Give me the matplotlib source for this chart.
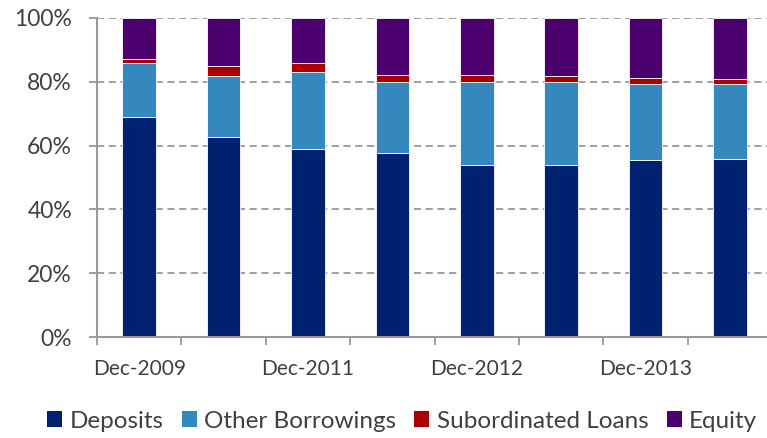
import matplotlib
matplotlib.use("Agg")
import matplotlib.pyplot as plt
import numpy as np
from matplotlib.ticker import FixedLocator, FuncFormatter
from matplotlib.patches import Patch

plt.rcParams['font.family'] = ['Lato', 'DejaVu Sans']

# Funding mix by reporting date (% of total)
categories = ["Dec-2009", "Dec-2010", "Dec-2011", "Jun-2012",
              "Dec-2012", "Jun-2013", "Dec-2013", "Jun-2014"]
tick_labels = ["Dec-2009", "", "Dec-2011", "", "Dec-2012", "", "Dec-2013", ""]
deposits = [68.9, 62.8, 58.8, 57.8, 53.8, 54.0, 55.5, 55.9]
other_borrowings = [16.9, 19.1, 24.2, 22.1, 26.1, 25.9, 23.9, 23.3]
subordinated_loans = [1.2, 3.0, 2.9, 2.1, 2.1, 1.8, 1.8, 1.8]
equity = [13.0, 15.1, 14.1, 18.0, 18.0, 18.3, 18.8, 19.0]

series = [("Deposits", deposits, "#002070"),
          ("Other Borrowings", other_borrowings, "#3588BE"),
          ("Subordinated Loans", subordinated_loans, "#AA0000"),
          ("Equity", equity, "#4B006E")]

text_color = "#404040"
grid_color = "#999999"

fig = plt.figure(figsize=(7.67, 4.38), dpi=100)
ax = fig.add_axes([97 / 767, 101 / 438, 8 * 84.4 / 767, 319 / 438])

x = np.arange(len(categories))
bottom = np.zeros(len(categories))
for name, vals, color in series:
    vals = np.array(vals)
    ax.bar(x, vals, width=0.40, bottom=bottom, color=color,
           edgecolor="#ffffff", linewidth=0.6, zorder=3, label=name)
    bottom += vals

ax.set_xlim(-0.5, len(categories) - 0.5)
ax.set_ylim(0, 100)

ax.yaxis.set_major_locator(FixedLocator([0, 20, 40, 60, 80, 100]))
ax.yaxis.set_major_formatter(FuncFormatter(lambda v, p: f"{int(v)}%"))
ax.yaxis.grid(True, linestyle=(0, (4, 2.5)), color=grid_color, linewidth=1.3, zorder=0)

ax.set_xticks(x)
ax.set_xticklabels(tick_labels)
ax.set_xticks(np.arange(len(categories) + 1) - 0.5, minor=True)
ax.tick_params(axis="x", which="major", length=0, pad=16, labelsize=15, labelcolor=text_color)
ax.tick_params(axis="x", which="minor", length=6, color=grid_color, width=1.3, direction="out")
ax.tick_params(axis="y", length=6, color=grid_color, width=1.3, pad=12,
               labelsize=16.5, labelcolor=text_color)

for side in ("top", "right"):
    ax.spines[side].set_visible(False)
for side in ("left", "bottom"):
    ax.spines[side].set_color(grid_color)
    ax.spines[side].set_linewidth(1.5)
    ax.spines[side].set_zorder(4)

handles = [Patch(facecolor=c, edgecolor="none", label=n) for n, _, c in series]
fig.legend(handles=handles, loc="center", bbox_to_anchor=(402 / 767, 1 - 421 / 438),
           ncol=4, frameon=False, fontsize=17.5, handlelength=0.62, handleheight=0.62,
           handletextpad=0.3, columnspacing=0.75, labelcolor=text_color)

fig.savefig("out.png", dpi=100)
